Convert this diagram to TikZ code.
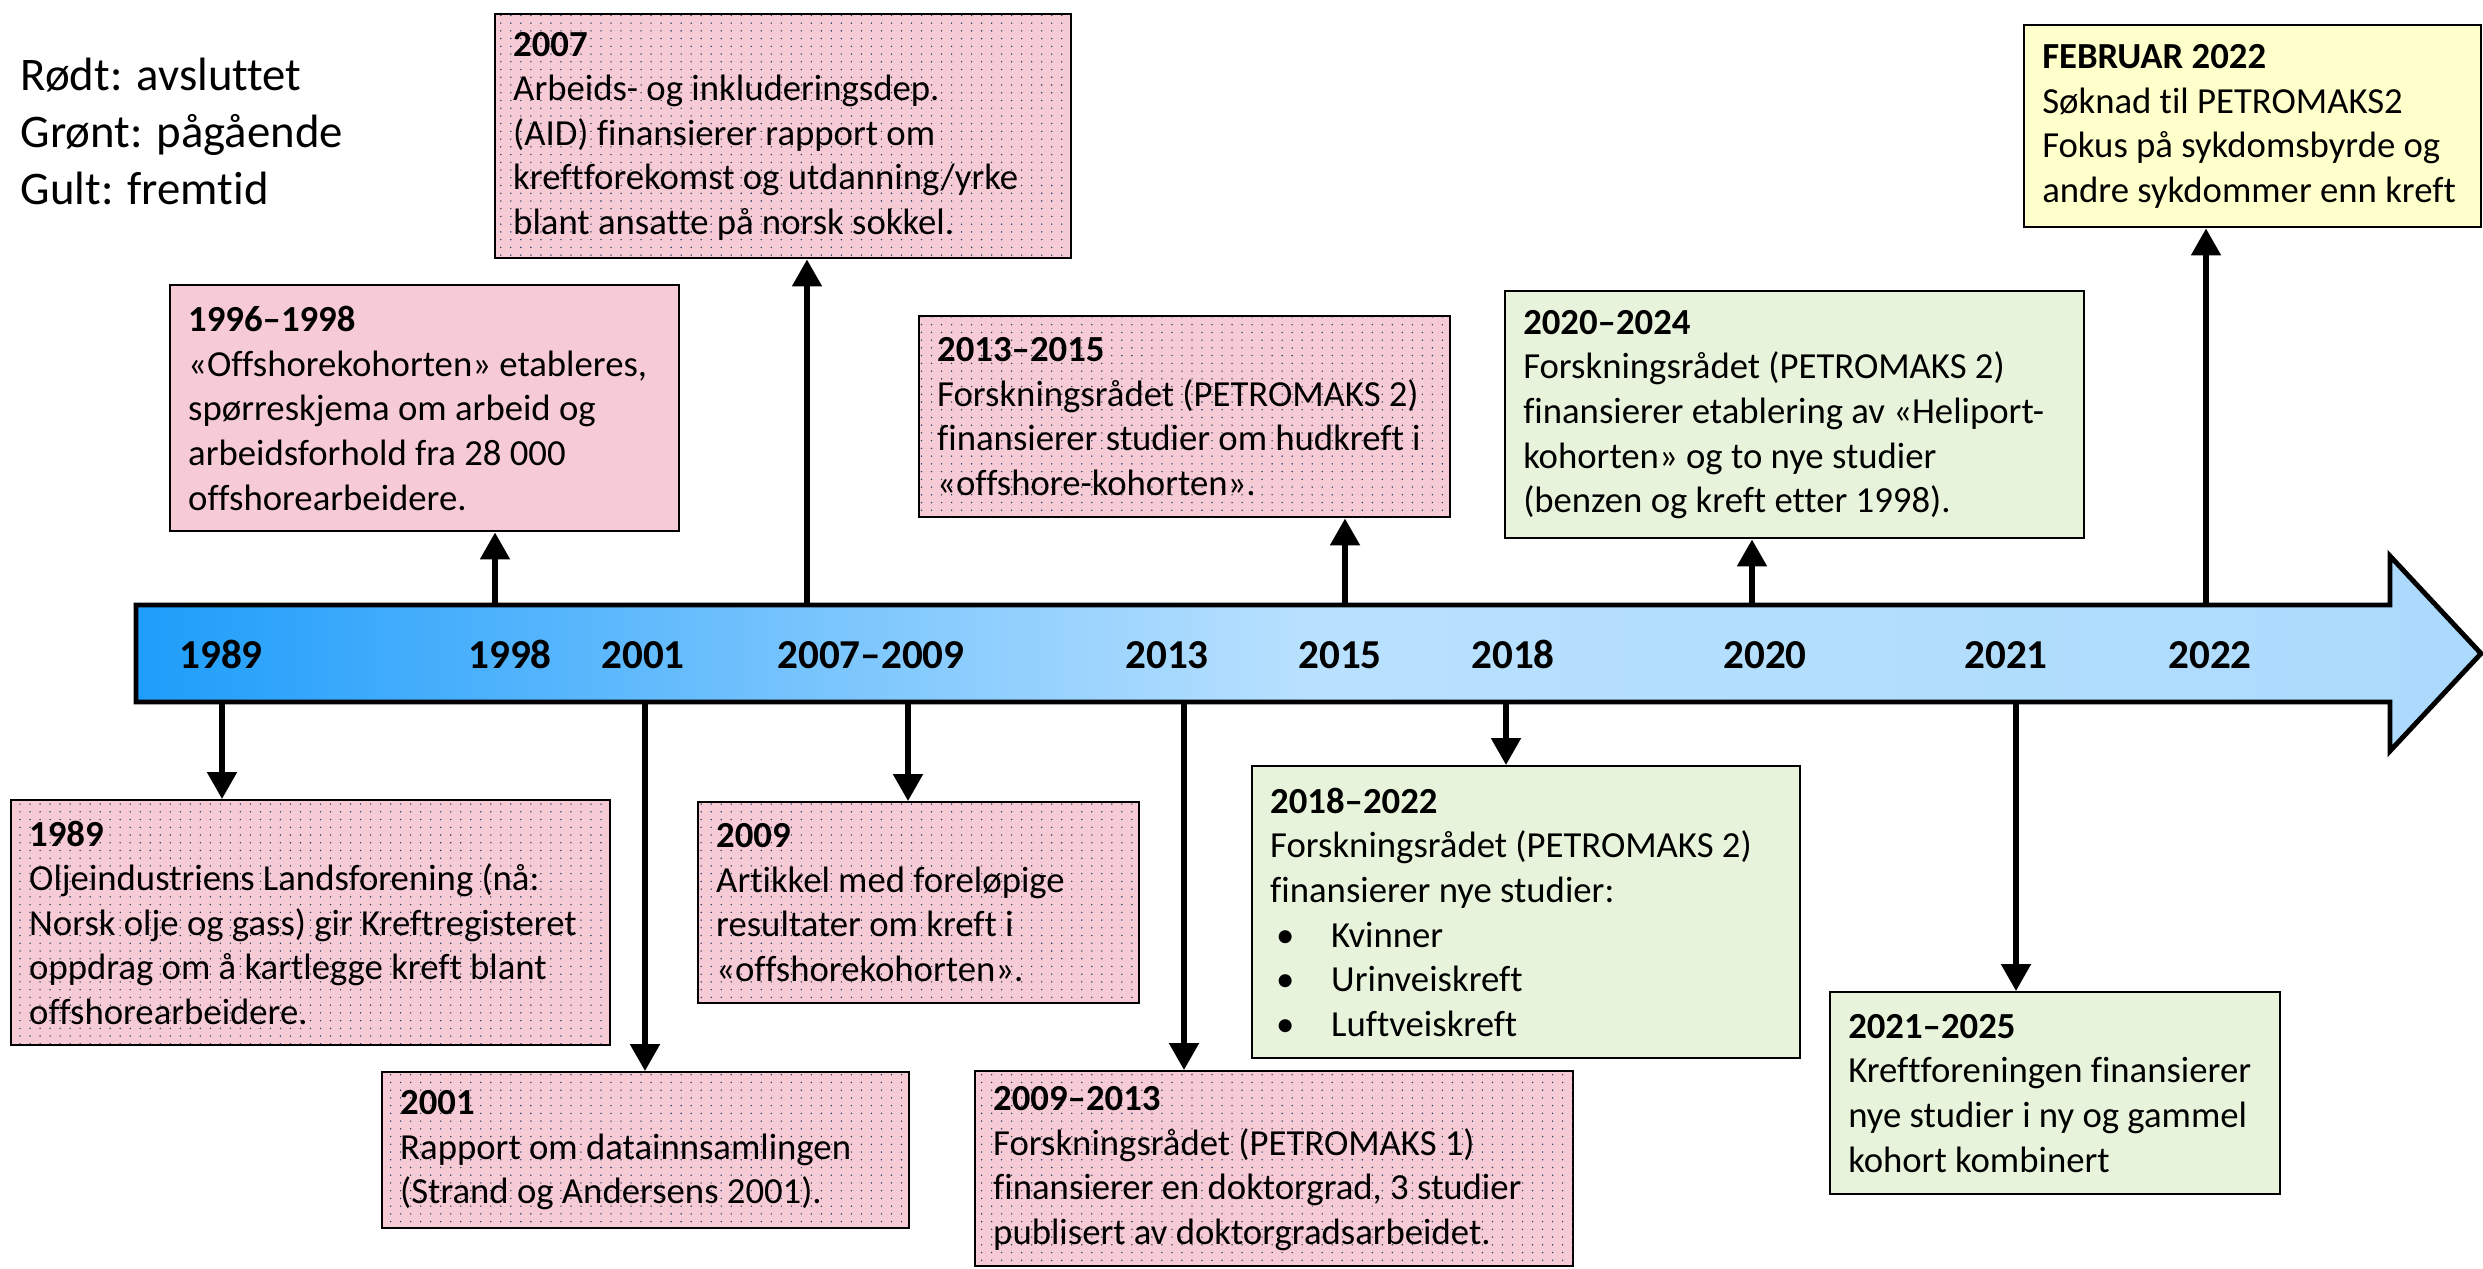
\documentclass[tikz,border=0pt]{standalone}
\usepackage{fontspec}
\setmainfont{Carlito}[Ligatures=NoCommon]
\usetikzlibrary{arrows.meta,patterns.meta}

\definecolor{pinkbg}{RGB}{246,203,213}
\definecolor{greenbg}{RGB}{232,243,220}
\definecolor{yellowbg}{RGB}{255,255,204}
\definecolor{dotnavy}{RGB}{31,56,100}
\definecolor{tlleft}{RGB}{30,157,250}
\definecolor{tlmid}{RGB}{185,225,255}
\definecolor{tlright}{RGB}{172,218,252}

% fine dot screen on the finished boxes
\tikzdeclarepattern{
  name=pptdots,
  type=uncolored,
  bounding box={(-0.5pt,-0.5pt) and (0.5pt,0.5pt)},
  tile size={(2.85pt,2.2pt)},
  code={\pgfpathcircle{\pgfpointorigin}{0.22pt}\pgfusepath{fill}}
}

\begin{document}
\begin{tikzpicture}[x=0.1mm, y=-0.1mm]
\tikzstyle{every node}=[font=\fontsize{10.45}{12.7}\selectfont]
\tikzstyle{event}=[draw, line width=0.7pt, anchor=north west, align=flush left, inner xsep=0.18cm, inner ysep=0pt]
\tikzstyle{pinkbox}=[event, fill=pinkbg]
\tikzstyle{dotbox}=[pinkbox, postaction={pattern=pptdots, pattern color=dotnavy}]
\tikzstyle{greenbox}=[event, fill=greenbg]
\tikzstyle{yellowbox}=[event, fill=yellowbg]
\tikzstyle{year}=[font=\fontsize{11.7}{14}\selectfont\bfseries, anchor=base, inner sep=0pt]
\tikzstyle{link}=[line width=1.5pt, -{Triangle[width=0.29cm,length=0.27cm]}]
\useasboundingbox (0,0) rectangle (2483,1268);

% legend
\node[anchor=north west, align=flush left, inner sep=0pt, font=\fontsize{13.3}{16.3}\selectfont] (key) at (20,57)
  {Rødt: avsluttet\\Grønt: pågående\\Gult: fremtid};

% boxes above the line
\node[pinkbox, text width=4.73cm, minimum height=2.46cm] (b1996) at (169,284)
  {\textbf{1996–1998}\\«Offshorekohorten» etableres,\\spørreskjema om arbeid og\\arbeidsforhold fra 28 000\\offshorearbeidere.};
\node[dotbox, text width=5.40cm, minimum height=2.44cm] (b2007) at (494,13)
  {\textbf{2007}\\Arbeids- og inkluderingsdep.\\(AID) finansierer rapport om\\kreftforekomst og utdanning/yrke\\blant ansatte på norsk sokkel.};
\node[dotbox, text width=4.95cm, minimum height=2.01cm] (b2013) at (918,315)
  {\textbf{2013–2015}\\Forskningsrådet (PETROMAKS 2)\\finansierer studier om hudkreft i\\«offshore-kohorten».};
\node[greenbox, text width=5.43cm, minimum height=2.47cm] (b2020) at (1504,290)
  {\textbf{2020–2024}\\Forskningsrådet (PETROMAKS 2)\\finansierer etablering av «Heliport-\\kohorten» og to nye studier\\(benzen og kreft etter 1998).};
\node[yellowbox, text width=4.21cm, minimum height=2.02cm] (bfeb) at (2023,24)
  {\textbf{FEBRUAR 2022}\\Søknad til PETROMAKS2\\Fokus på sykdomsbyrde og\\andre sykdommer enn kreft};

% boxes below the line
\node[dotbox, text width=5.63cm, minimum height=2.45cm] (b1989) at (10,799)
  {\textbf{1989}\\Oljeindustriens Landsforening (nå:\\Norsk olje og gass) gir Kreftregisteret\\oppdrag om å kartlegge kreft blant\\offshorearbeidere.};
\node[dotbox, text width=4.91cm, minimum height=1.56cm] (b2001) at (381,1071)
  {\textbf{2001}\\Rapport om datainnsamlingen\\(Strand og Andersens 2001).};
\node[dotbox, text width=4.05cm, minimum height=2.01cm] (b2009) at (697,801)
  {\textbf{2009}\\Artikkel med foreløpige\\resultater om kreft i\\«offshorekohorten».};
\node[dotbox, text width=5.62cm, minimum height=1.95cm] (b0913) at (974,1070)
  {\textbf{2009–2013}\\Forskningsrådet (PETROMAKS 1)\\finansierer en doktorgrad, 3 studier\\publisert av doktorgradsarbeidet.};
\node[greenbox, text width=5.12cm, minimum height=2.92cm] (b2018) at (1251,765)
  {\textbf{2018–2022}\\Forskningsrådet (PETROMAKS 2)\\finansierer nye studier:\\
   \makebox[0.61cm][l]{\hspace{0.06cm}\textbullet}Kvinner\\
   \makebox[0.61cm][l]{\hspace{0.06cm}\textbullet}Urinveiskreft\\
   \makebox[0.61cm][l]{\hspace{0.06cm}\textbullet}Luftveiskreft};
\node[greenbox, text width=4.14cm, minimum height=2.02cm] (b2021) at (1829,991)
  {\textbf{2021–2025}\\Kreftforeningen finansierer\\nye studier i ny og gammel\\kohort kombinert};

% where the connectors leave the line
\coordinate (s1989) at (222,704);
\coordinate (s1998) at (495,604);
\coordinate (s2001) at (645,704);
\coordinate (s2007) at (807,604);
\coordinate (s2009) at (908,704);
\coordinate (s2013) at (1184,704);
\coordinate (s2015) at (1345,604);
\coordinate (s2018) at (1506,704);
\coordinate (s2020) at (1752,604);
\coordinate (s2021) at (2016,704);
\coordinate (s2022) at (2206,604);

\draw[link] (s1989) -- (s1989 |- b1989.north);
\draw[link] (s1998) -- (s1998 |- b1996.south);
\draw[link] (s2001) -- (s2001 |- b2001.north);
\draw[link] (s2007) -- (s2007 |- b2007.south);
\draw[link] (s2009) -- (s2009 |- b2009.north);
\draw[link] (s2013) -- (s2013 |- b0913.north);
\draw[link] (s2015) -- (s2015 |- b2013.south);
\draw[link] (s2018) -- (s2018 |- b2018.north);
\draw[link] (s2020) -- (s2020 |- b2020.south);
\draw[link] (s2021) -- (s2021 |- b2021.north);
\draw[link] (s2022) -- (s2022 |- bfeb.south);

% the time line
\shadedraw[line width=1.4pt, line join=miter, left color=tlleft, right color=tlright, middle color=tlmid]
  (136,605) -- (2390,605) -- (2390,556) -- (2481,653.5) -- (2390,751) -- (2390,702) -- (136,702) -- cycle;
\node[year] (y1989) at (221,668) {1989};
\node[year] (y1998) at (510,668) {1998};
\node[year] (y2001) at (643,668) {2001};
\node[year] (y2007) at (871,668) {2007–2009};
\node[year] (y2013) at (1167,668) {2013};
\node[year] (y2015) at (1340,668) {2015};
\node[year] (y2018) at (1513,668) {2018};
\node[year] (y2020) at (1765,668) {2020};
\node[year] (y2021) at (2006,668) {2021};
\node[year] (y2022) at (2210,668) {2022};
\end{tikzpicture}
\end{document}
